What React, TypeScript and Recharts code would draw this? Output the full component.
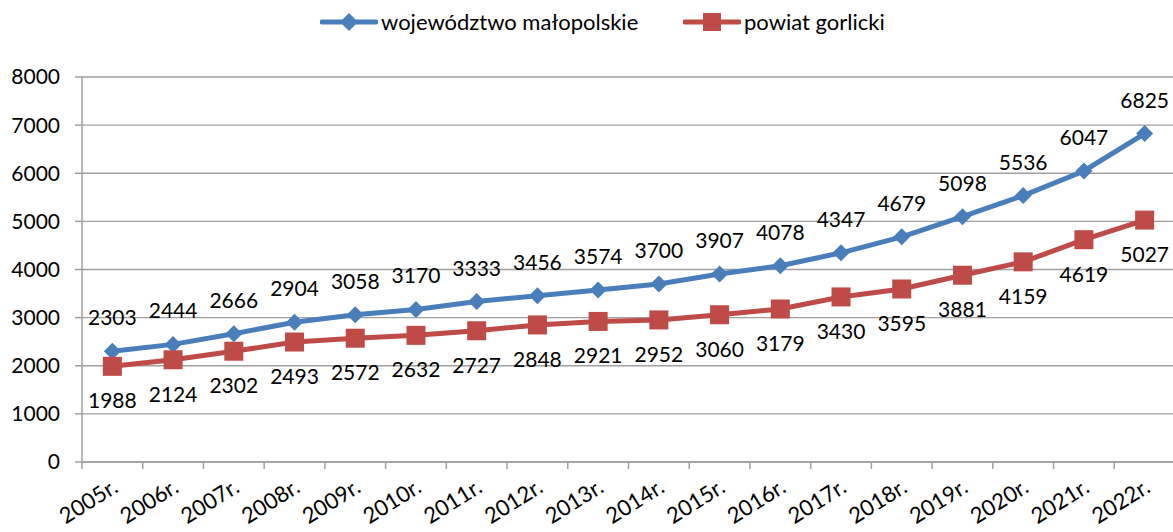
import { LineChart, Line, XAxis, YAxis, CartesianGrid, LabelList } from 'recharts'

const lata = [
  '2005r.', '2006r.', '2007r.', '2008r.', '2009r.', '2010r.', '2011r.', '2012r.', '2013r.',
  '2014r.', '2015r.', '2016r.', '2017r.', '2018r.', '2019r.', '2020r.', '2021r.', '2022r.',
]
const malopolskie = [
  2303, 2444, 2666, 2904, 3058, 3170, 3333, 3456, 3574,
  3700, 3907, 4078, 4347, 4679, 5098, 5536, 6047, 6825,
]
const gorlicki = [
  1988, 2124, 2302, 2493, 2572, 2632, 2727, 2848, 2921,
  2952, 3060, 3179, 3430, 3595, 3881, 4159, 4619, 5027,
]
const yTicks = [0, 1000, 2000, 3000, 4000, 5000, 6000, 7000, 8000]

const BLUE = '#4A7EBB'
const RED = '#BE4B48'
const GRID = '#A0A0A0'
const FONT = 'Lato, "Liberation Sans", sans-serif'

const data = lata.map((rok, i) => ({ rok, malopolskie: malopolskie[i], gorlicki: gorlicki[i] }))

function Diamond({ cx, cy }: any) {
  if (cx == null || cy == null) return null
  const r = 8.5
  return <path d={`M${cx},${cy - r} L${cx + r},${cy} L${cx},${cy + r} L${cx - r},${cy} Z`} fill={BLUE} />
}

function Square({ cx, cy }: any) {
  if (cx == null || cy == null) return null
  const s = 9.5
  return <rect x={cx - s} y={cy - s} width={s * 2} height={s * 2} fill={RED} />
}

function XTick({ x, y, payload, index }: any) {
  const half = payload?.offset ?? 30.35
  const last = index === lata.length - 1
  const ax = x + 7
  const ay = y + 21
  return (
    <g>
      <line x1={x - half} y1={y - 8} x2={x - half} y2={y - 1} stroke={GRID} strokeWidth={1.5} />
      {last && <line x1={x + half} y1={y - 8} x2={x + half} y2={y - 1} stroke={GRID} strokeWidth={1.5} />}
      <text
        x={ax}
        y={ay}
        transform={`rotate(-32, ${ax}, ${ay})`}
        textAnchor="end"
        fontSize={22}
        fontFamily={FONT}
        fill="#000"
      >
        {payload.value}
      </text>
    </g>
  )
}

function LegendItem({ color, label, square, left }: { color: string; label: string; square?: boolean; left: number }) {
  return (
    <div style={{ position: 'absolute', top: 8, left, display: 'flex', alignItems: 'center', whiteSpace: 'nowrap' }}>
      <svg width={58} height={20}>
        <line x1={2} y1={10} x2={56} y2={10} stroke={color} strokeWidth={5} strokeLinecap="round" />
        {square
          ? <rect x={20} y={1} width={18} height={18} fill={color} />
          : <path d="M29,1 L38,10 L29,19 L20,10 Z" fill={color} />}
      </svg>
      <span style={{ marginLeft: 3, fontSize: 22, fontFamily: FONT, color: '#000' }}>{label}</span>
    </div>
  )
}

export default function App() {
  return (
    <div style={{ position: 'absolute', left: 0, top: 0, width: 1173, height: 532, overflow: 'hidden', background: '#fff' }}>
      <LegendItem color={BLUE} label="województwo małopolskie" left={320} />
      <LegendItem color={RED} label="powiat gorlicki" square left={683} />
      <LineChart width={1175} height={532} data={data} margin={{ top: 77, right: 0, bottom: 0, left: 0 }}>
        <CartesianGrid vertical={false} stroke={GRID} strokeWidth={1.3} />
        <XAxis
          dataKey="rok"
          scale="band"
          interval={0}
          height={70}
          tickLine={false}
          axisLine={{ stroke: GRID, strokeWidth: 1.5 }}
          tick={<XTick />}
        />
        <YAxis
          domain={[0, 8000]}
          ticks={yTicks}
          width={82}
          tickSize={7}
          tickMargin={15}
          tickLine={{ stroke: GRID, strokeWidth: 1.5 }}
          axisLine={{ stroke: GRID, strokeWidth: 1.5 }}
          tick={{ fontSize: 21, fontFamily: FONT, fill: '#000' }}
        />
        <Line
          dataKey="malopolskie"
          stroke={BLUE}
          strokeWidth={5}
          dot={<Diamond />}
          activeDot={false}
          isAnimationActive={false}
        >
          <LabelList dataKey="malopolskie" position="top" offset={26} fontSize={21} fontFamily={FONT} fill="#000" />
        </Line>
        <Line
          dataKey="gorlicki"
          stroke={RED}
          strokeWidth={5}
          dot={<Square />}
          activeDot={false}
          isAnimationActive={false}
        >
          <LabelList dataKey="gorlicki" position="bottom" offset={27} fontSize={21} fontFamily={FONT} fill="#000" />
        </Line>
      </LineChart>
    </div>
  )
}
